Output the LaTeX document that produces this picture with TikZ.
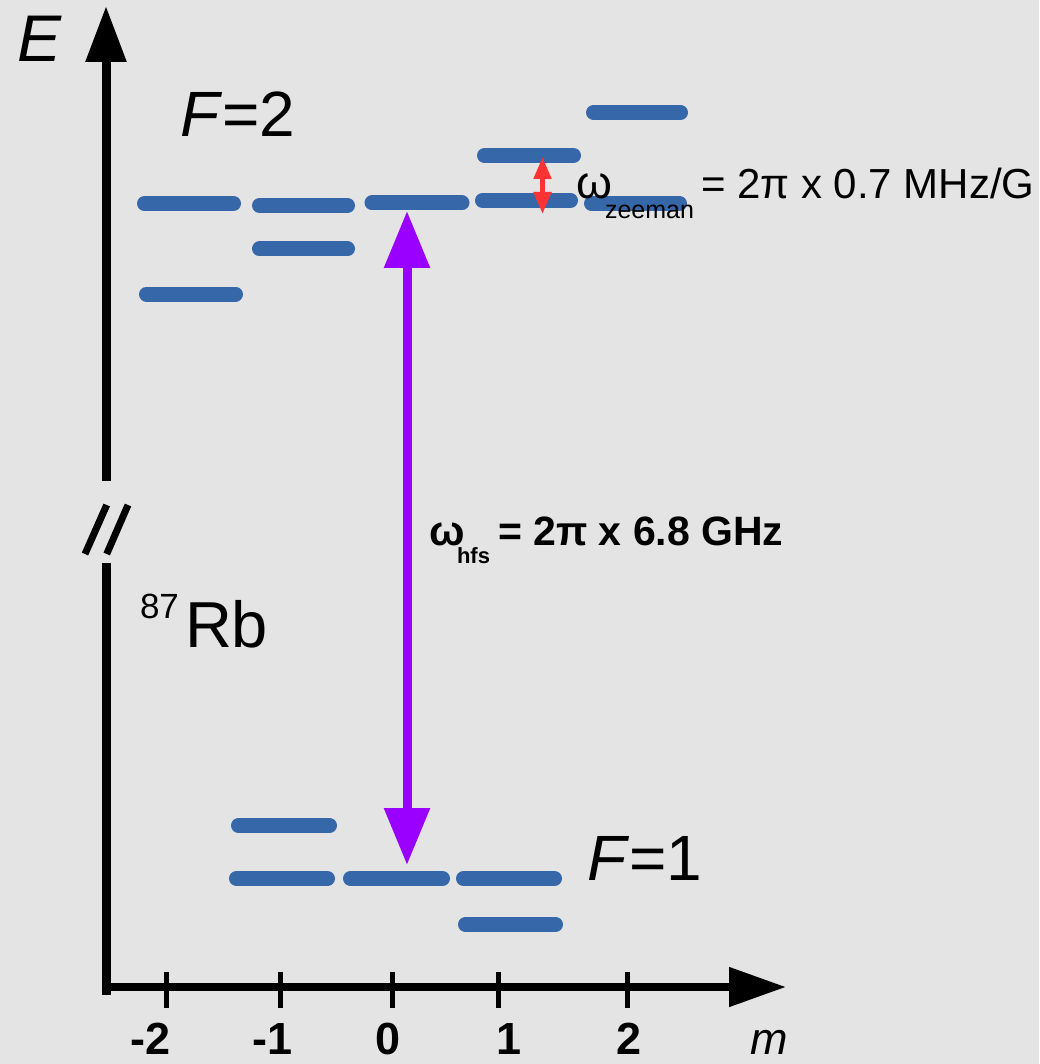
\documentclass[tikz,border=0pt]{standalone}
\usepackage{fontspec}
\setmainfont{Liberation Sans}
\usetikzlibrary{arrows.meta}
\definecolor{bgcol}{RGB}{228,228,228}
\definecolor{lvlcol}{RGB}{53,103,169}
\definecolor{hfscol}{RGB}{153,0,255}
\definecolor{zeecol}{RGB}{255,51,51}
\newcommand{\fsz}[1]{\fontsize{#1pt}{#1pt}\selectfont}
\begin{document}
\begin{tikzpicture}[x=1pt,y=-1pt,
  lvlbar/.style={line width=15pt, line cap=round, draw=lvlcol},
  axisline/.style={line width=9pt, draw=black},
  tickline/.style={line width=5pt, draw=black},
  breakline/.style={line width=7pt, draw=black},
  lbl/.style={inner sep=0pt, outer sep=0pt, anchor=base west},
  ticklbl/.style={inner sep=0pt, outer sep=0pt, anchor=base, font=\fsz{45}\bfseries},
  hfsarrow/.style={line width=9pt, draw=hfscol, {Triangle[length=57pt,width=44pt]}-{Triangle[length=57pt,width=44pt]}},
  zeearrow/.style={line width=5pt, draw=zeecol, {Triangle[length=22pt,width=17pt]}-{Triangle[length=22pt,width=17pt]}}
]
\useasboundingbox (0,0) rectangle (1039,1064);
\fill[bgcol] (0,0) rectangle (1039,1064);

% axes
\coordinate (Ebot) at (106,481);
\coordinate (Etop) at (106,6);
\coordinate (Elow) at (106,563);
\coordinate (corner) at (106,995);
\coordinate (mstart) at (101.5,987);
\coordinate (mend) at (786,987);
\draw[axisline, -{Triangle[length=56pt,width=39pt]}] (Ebot) -- (Etop);
\draw[axisline] (Elow) -- (corner);
\draw[line width=8pt, -{Triangle[length=57pt,width=38pt]}] (mstart) -- (mend);
% axis break
\draw[breakline] (85,554) -- (106.7,505);
\draw[breakline] (106.7,554) -- (128,505);
% ticks
\foreach \tx in {166,280,392,498,627}{
  \draw[tickline] (\tx,972) -- (\tx,1008);
}
\foreach \lx/\tl [count=\i] in {151/-2,273/-1,388.5/0,509/1,629.5/2}{
  \node[ticklbl] (tick\i) at (\lx,1054) {\tl};
}
\node[lbl, font=\fsz{45}\itshape] (mlabel) at (750,1054) {m};
\node[lbl, font=\fsz{66}\itshape] (Elabel) at (17,62) {E};

% F=2 levels
\draw[lvlbar] (144.5,203.5) -- (233.5,203.5);
\draw[lvlbar] (146.5,294) -- (235.5,294);
\draw[lvlbar] (259.5,205.5) -- (347.5,205.5);
\draw[lvlbar] (259.5,249) -- (347.5,249);
\draw[lvlbar] (372,203) -- (462,203);
\draw[lvlbar] (484.5,155.5) -- (573.5,155.5);
\draw[lvlbar] (482.5,200.5) -- (570.5,200.5);
\draw[lvlbar] (593.5,112.5) -- (680.5,112.5);
\draw[lvlbar] (591.5,203.5) -- (679.5,203.5);
% F=1 levels
\draw[lvlbar] (238.5,825.5) -- (329.5,825.5);
\draw[lvlbar] (236.5,878.5) -- (327.5,878.5);
\draw[lvlbar] (350.5,878.5) -- (442.5,878.5);
\draw[lvlbar] (463.5,878.5) -- (554.5,878.5);
\draw[lvlbar] (465.5,924.5) -- (555.5,924.5);

% transitions
\coordinate (F2m0) at (407,211);
\coordinate (F1m0) at (407,865);
\draw[hfsarrow] (F2m0) -- (F1m0);
\coordinate (zup) at (542.5,157);
\coordinate (zdn) at (542.5,214);
\draw[zeearrow] (zup) -- (zdn);

% labels
\node[lbl, font=\fsz{64}] (F2label) at (180,137) {\textit{F}=2};
\node[lbl, font=\fsz{64}] (F1label) at (587,880) {\textit{F}=1};
\node[lbl, font=\fsz{35}] (massno) at (140,618) {87};
\node[lbl, font=\fsz{65}] (Rblabel) at (185,647) {Rb};

\node[lbl, font=\fsz{46}] (zomega) at (576,199) {ω};
\node[lbl, font=\fsz{25}] (zsub) at (605,219) {zeeman};
\node[lbl, font=\fsz{42}] (zval) at (701,199) {= 2π x 0.7 MHz/G};

\node[lbl, font=\fsz{42}\bfseries] (homega) at (429,545) {ω};
\node[lbl, font=\fsz{22}\bfseries] (hsub) at (457,563) {hfs};
\node[lbl, font=\fsz{41}\bfseries] (hval) at (498,545) {= 2π x 6.8 GHz};
\end{tikzpicture}
\end{document}
